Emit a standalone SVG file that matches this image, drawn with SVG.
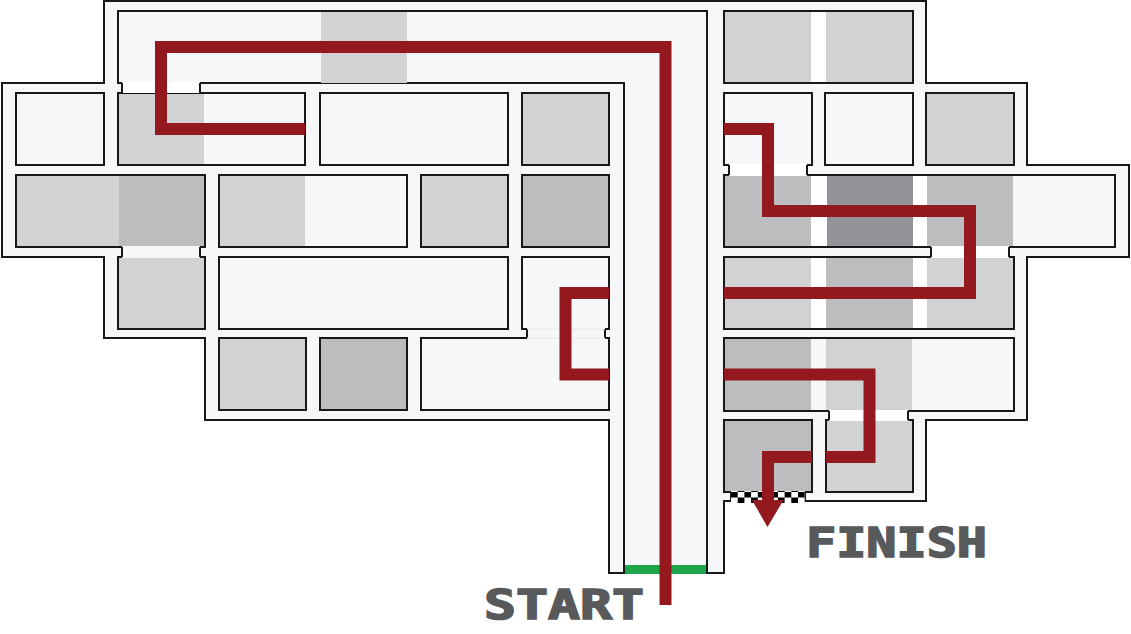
<svg xmlns="http://www.w3.org/2000/svg" width="1131" height="634" viewBox="0 0 1131 634">
<defs>
<style>
.wall{fill:#f6f7f9;stroke:#1a1718;stroke-width:2}
.edge{fill:none;stroke:#1a1718;stroke-width:2}
.a{fill:#d0d2d3}.b{fill:#bcbdbf}.c{fill:#929497}.w{fill:#fff}.p{fill:#f6f7f9}
.route{fill:none;stroke:#94191f;stroke-width:12;stroke-linejoin:miter;stroke-linecap:butt}
.label{font-family:"DejaVu Sans Mono","Liberation Mono",monospace;font-weight:700;font-size:40px;fill:#58595b;stroke:#58595b;stroke-width:1.6}
</style>
<pattern id="check" x="731" y="492" width="13.4" height="11" patternUnits="userSpaceOnUse">
<rect width="13.4" height="11" fill="#fff"/>
<rect width="6.7" height="5.5" fill="#000"/>
<rect x="6.7" y="5.5" width="6.7" height="5.5" fill="#000"/>
</pattern>
</defs>
<g id="building">
<path class="wall" d="M104 1H926V83H1027V165H1129V257H1027V420H926V501H805V492H731V501H724V573H707V566H624V573H609V420H205V338H104V257H2V83H104Z"/>
<path class="edge" d="M104 1H926" stroke-width="2.6"/>
</g>
<g id="corridor">
<path class="wall" d="M118 11H707V566H624V83H118Z"/>
<rect class="a" x="321" y="12" width="86" height="71"/>
</g>
<g id="room-nw-1"><rect class="wall" x="16" y="93" width="88" height="72"/></g>
<g id="room-nw-2"><rect class="wall" x="118" y="93" width="187" height="72"/><rect class="a" x="119" y="94" width="85" height="70"/></g>
<g id="room-nw-3"><rect class="wall" x="320" y="93" width="188" height="72"/></g>
<g id="room-nw-4"><rect class="wall" x="522" y="93" width="87" height="72"/><rect class="a" x="523" y="94" width="85" height="70"/></g>
<g id="room-w-1"><rect class="wall" x="16" y="175" width="189" height="72"/><rect class="a" x="17" y="176" width="102" height="70"/><rect class="b" x="119" y="176" width="85" height="70"/></g>
<g id="room-w-2"><rect class="wall" x="219" y="175" width="188" height="72"/><rect class="a" x="220" y="176" width="85" height="70"/></g>
<g id="room-w-3"><rect class="wall" x="421" y="175" width="87" height="72"/><rect class="a" x="422" y="176" width="85" height="70"/></g>
<g id="room-w-4"><rect class="wall" x="522" y="175" width="87" height="72"/><rect class="b" x="523" y="176" width="85" height="70"/></g>
<g id="room-sw-1"><rect class="wall" x="118" y="257" width="87" height="72"/><rect class="a" x="119" y="258" width="85" height="70"/></g>
<g id="room-sw-2"><rect class="wall" x="219" y="257" width="289" height="72"/></g>
<g id="room-sw-3"><rect class="wall" x="522" y="257" width="87" height="72"/></g>
<g id="room-s-1"><rect class="wall" x="219" y="338" width="87" height="72"/><rect class="a" x="220" y="339" width="85" height="70"/></g>
<g id="room-s-2"><rect class="wall" x="320" y="338" width="87" height="72"/><rect class="b" x="321" y="339" width="85" height="70"/></g>
<g id="room-s-3"><rect class="wall" x="421" y="338" width="188" height="72"/></g>
<g id="room-e-0"><rect class="wall" x="724" y="11" width="189" height="72"/><rect class="a" x="725" y="12" width="86" height="70"/><rect class="w" x="811" y="12" width="15" height="70"/><rect class="a" x="826" y="12" width="86" height="70"/></g>
<g id="room-e-1"><rect class="wall" x="724" y="93" width="88" height="72"/></g>
<g id="room-e-2"><rect class="wall" x="825" y="93" width="88" height="72"/></g>
<g id="room-e-3"><rect class="wall" x="926" y="93" width="88" height="72"/><rect class="a" x="927" y="94" width="86" height="70"/></g>
<g id="room-e-4"><rect class="wall" x="724" y="175" width="391" height="72"/><rect class="b" x="725" y="176" width="86" height="70"/><rect class="w" x="811" y="176" width="16" height="70"/><rect class="c" x="827" y="176" width="86" height="70"/><rect class="w" x="913" y="176" width="14" height="70"/><rect class="b" x="927" y="176" width="86" height="70"/></g>
<g id="room-e-5"><rect class="wall" x="724" y="257" width="290" height="72"/><rect class="a" x="725" y="258" width="86" height="70"/><rect class="w" x="811" y="258" width="15" height="70"/><rect class="b" x="826" y="258" width="87" height="70"/><rect class="w" x="913" y="258" width="14" height="70"/><rect class="a" x="927" y="258" width="86" height="70"/></g>
<g id="room-e-6"><rect class="wall" x="724" y="338" width="290" height="73"/><rect class="b" x="725" y="339" width="86" height="71"/><rect class="a" x="826" y="339" width="86" height="71"/></g>
<g id="room-e-7"><rect class="wall" x="724" y="420" width="88" height="72"/><rect class="b" x="725" y="421" width="86" height="70"/></g>
<g id="room-e-8"><rect class="wall" x="826" y="420" width="87" height="72"/><rect class="a" x="827" y="421" width="85" height="70"/></g>
<g id="doors">
<rect class="w" x="122" y="82" width="78" height="11"/><path class="edge" d="M122 83V93M200 83V93"/>
<rect class="p" x="122" y="246" width="78" height="12"/><path class="edge" d="M122 247V257M200 247V257"/>
<rect class="p" x="527" y="328" width="78" height="11"/><path class="edge" d="M527 329V338M605 329V338"/><path d="M527 329H605M527 338H605" fill="none" stroke="#e6e7e8" stroke-width="1"/>
<rect class="w" x="729" y="164" width="78" height="12"/><path class="edge" d="M729 165V175M807 165V175"/>
<rect class="w" x="931" y="246" width="78" height="12"/><path class="edge" d="M931 247V257M1009 247V257"/>
<rect class="w" x="829" y="410" width="79" height="11"/><path class="edge" d="M829 411V420M908 411V420"/>
</g>
<g id="start-line"><rect x="625" y="565" width="81" height="9" fill="#1fa64a"/></g>
<g id="finish-line"><rect x="731" y="491" width="74" height="12" fill="url(#check)"/></g>
<g id="connectors">
<path class="route" d="M665.5 605V47H161V129H305"/>
<path class="route" d="M609 293H565.5V374.500H609"/>
<path class="route" d="M724 129H768V211H970V293H724"/>
<path class="route" d="M724 374.500H869.500V457H826"/>
<path class="route" d="M812 457H768V502"/>
<path d="M752 500H783.500L767.500 527Z" fill="#94191f"/>
</g>
<g id="labels">
<text class="label" x="484" y="619" textLength="160" lengthAdjust="spacingAndGlyphs">START</text>
<text class="label" x="806" y="557" textLength="181" lengthAdjust="spacingAndGlyphs">FINISH</text>
</g>
</svg>
